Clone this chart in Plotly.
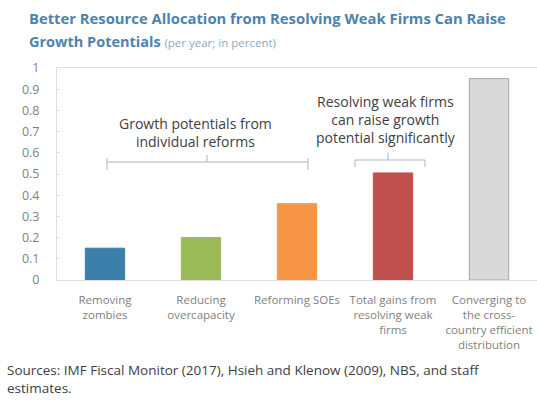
import plotly.graph_objects as go

categories = ["Removing<br>zombies", "Reducing<br>overcapacity", "Reforming SOEs",
              "Total gains from<br>resolving weak<br>firms",
              "Converging to<br>the cross-<br>country efficient<br>distribution"]
values = [0.15, 0.20, 0.36, 0.505, 0.95]
colors = ["#3c7fab", "#9bbb59", "#f79646", "#c0504d", "#d9d9d9"]
outline = ["#3c7fab", "#9bbb59", "#f79646", "#c0504d", "#a6a6a6"]
ytickvals = [0, 0.1, 0.2, 0.3, 0.4, 0.5, 0.6, 0.7, 0.8, 0.9, 1]
yticktext = ["0", "0.1", "0.2", "0.3", "0.4", "0.5", "0.6", "0.7", "0.8", "0.9", "1"]

W, H = 537, 403
L, R, T, B = 57, 0, 68, 123
pw, ph = W - L - R, H - T - B

def px_x(p):  # pixel -> category index
    return (p - L) / pw * 5 - 0.5

def px_y(p):  # pixel -> value
    return (T + ph - p) / ph

fig = go.Figure(go.Bar(
    x=list(range(len(categories))), y=values, width=0.41,
    marker=dict(color=colors, line=dict(color=outline, width=1)),
))

bc = "#a9b6c0"
shapes = []
# left bracket
yh = px_y(162)
shapes.append(dict(type="line", xref="x", yref="y", x0=px_x(107), x1=px_x(308), y0=yh, y1=yh))
for xp in (107, 308):
    shapes.append(dict(type="line", xref="x", yref="y", x0=px_x(xp), x1=px_x(xp), y0=px_y(158), y1=px_y(170)))
shapes.append(dict(type="line", xref="x", yref="y", x0=px_x(207), x1=px_x(207), y0=yh, y1=px_y(155)))
# right bracket
yh2 = px_y(160)
shapes.append(dict(type="line", xref="x", yref="y", x0=px_x(355), x1=px_x(425), y0=yh2, y1=yh2))
for xp in (355, 425):
    shapes.append(dict(type="line", xref="x", yref="y", x0=px_x(xp), x1=px_x(xp), y0=yh2, y1=px_y(167)))
shapes.append(dict(type="line", xref="x", yref="y", x0=px_x(388), x1=px_x(388), y0=yh2, y1=px_y(153)))
for s in shapes:
    s["line"] = dict(color=bc, width=1)

ann_font = dict(family="Open Sans, sans-serif", size=14, color="#404040")
annotations = [
    dict(x=px_x(195), y=px_y(132), xref="x", yref="y", showarrow=False,
         text="Growth potentials from<br>individual reforms", font=ann_font, align="center"),
    dict(x=px_x(386), y=px_y(119), xref="x", yref="y", showarrow=False,
         text="Resolving weak firms<br>can raise growth<br>potential significantly", font=ann_font, align="center"),
    dict(x=27, y=18, xref="paper", yref="paper", xanchor="left", yanchor="middle", showarrow=False,
         text="<b>Better Resource Allocation from Resolving Weak Firms Can Raise</b>",
         font=dict(family="Open Sans, sans-serif", size=14.8, color="#4d83ad")),
    dict(x=27, y=41, xref="paper", yref="paper", xanchor="left", yanchor="middle", showarrow=False,
         text="<b>Growth Potentials</b> <span style='font-size:11.5px;color:#8aaac4'>(per year; in percent)</span>",
         font=dict(family="Open Sans, sans-serif", size=14.5, color="#4d83ad")),
    dict(x=5, y=370, xref="paper", yref="paper", xanchor="left", yanchor="middle", showarrow=False,
         text="Sources: IMF Fiscal Monitor (2017), Hsieh and Klenow (2009), NBS, and staff",
         font=dict(family="Open Sans, sans-serif", size=13.5, color="#404040")),
    dict(x=5, y=388, xref="paper", yref="paper", xanchor="left", yanchor="middle", showarrow=False,
         text="estimates.",
         font=dict(family="Open Sans, sans-serif", size=13.5, color="#404040")),
]
# convert paper-pixel annotations
for a in annotations:
    if a["xref"] == "paper":
        a["x"] = (a["x"] - L) / pw
        a["y"] = (T + ph - a["y"]) / ph

fig.update_layout(
    width=W, height=H, margin=dict(l=L, r=R, t=T, b=B),
    paper_bgcolor="white", plot_bgcolor="white",
    showlegend=False, shapes=shapes, annotations=annotations,
    xaxis=dict(range=[-0.5, 4.5], tickvals=list(range(len(categories))), ticktext=categories,
               tickfont=dict(family="Open Sans, sans-serif", size=11.5, color="#7f7f7f"),
               showline=True, linecolor="#e0e0e0", mirror=True, showgrid=False, ticks="", zeroline=False,
               ticklabelstandoff=9),
    yaxis=dict(range=[0, 1], tickvals=ytickvals, ticktext=yticktext,
               tickfont=dict(family="Open Sans, sans-serif", size=12.5, color="#7f7f7f"),
               showline=True, linecolor="#e0e0e0", mirror=True, showgrid=False,
               ticks="inside", ticklen=3, tickcolor="#e0e0e0", zeroline=False, ticklabelstandoff=14),
)

fig.write_html("out.html")
